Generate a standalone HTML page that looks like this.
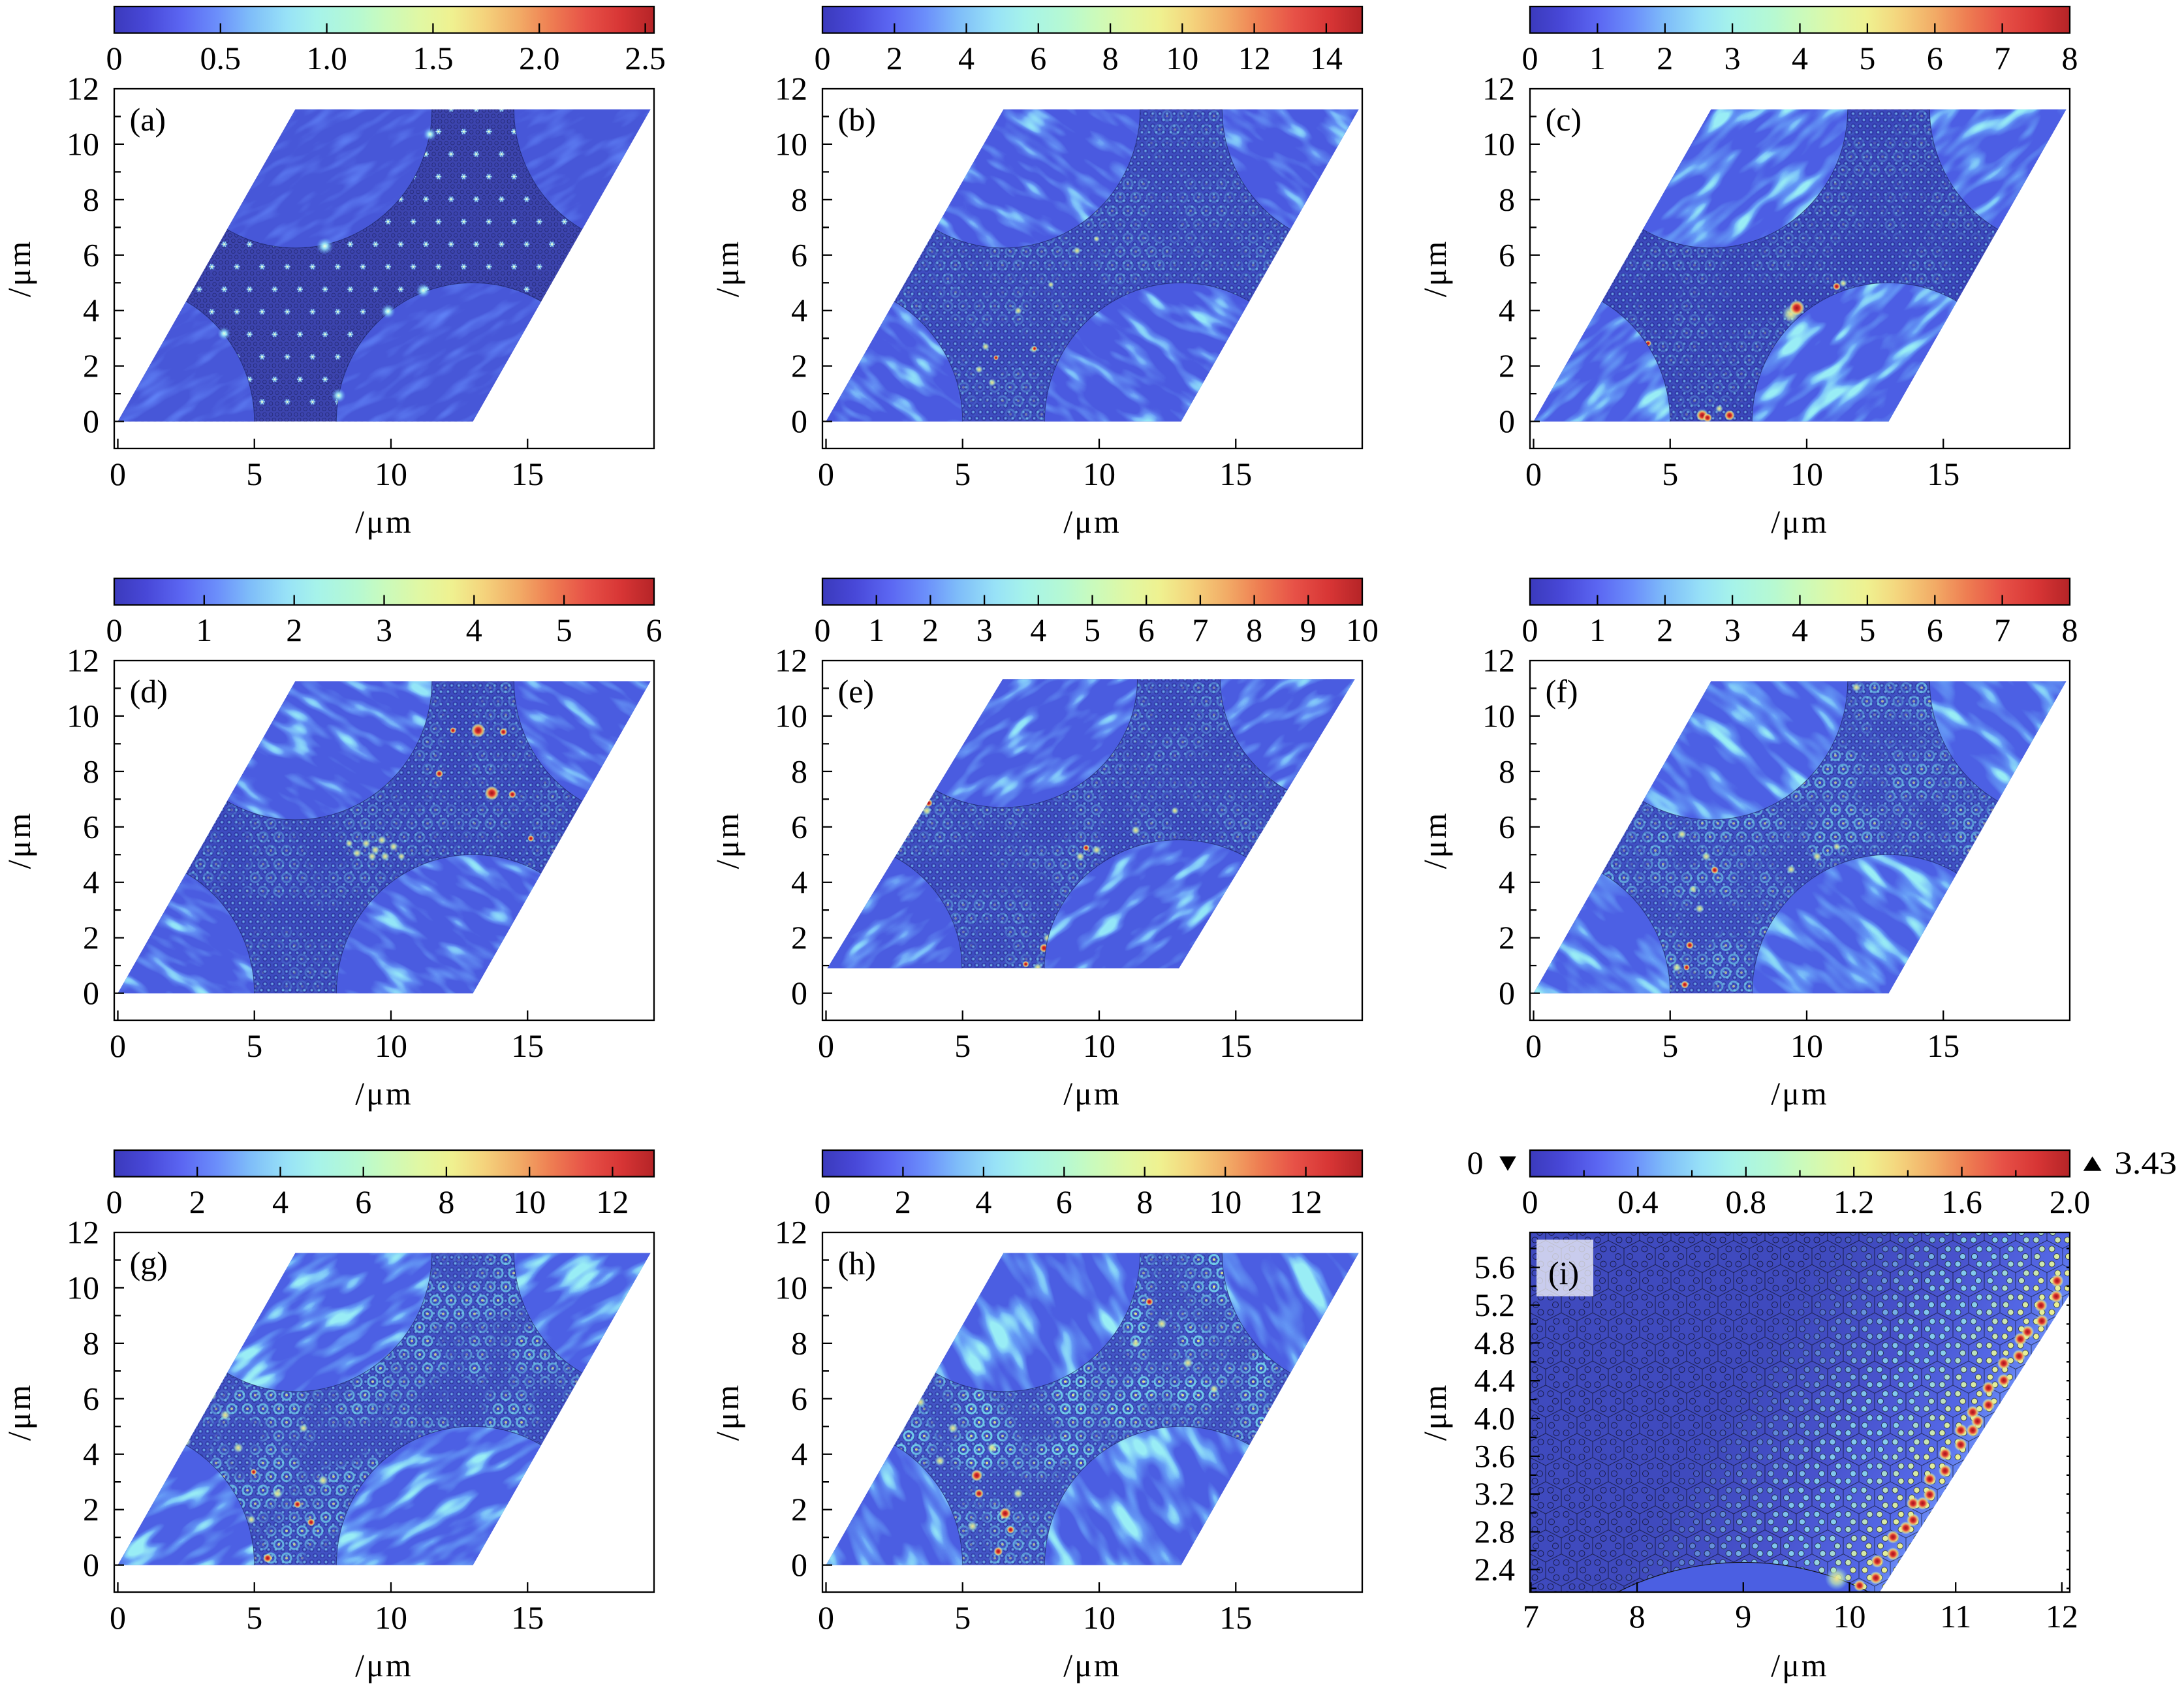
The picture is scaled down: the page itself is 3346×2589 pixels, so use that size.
<!DOCTYPE html>
<html><head><meta charset="utf-8">
<style>
html,body{margin:0;padding:0;background:#fff;width:3346px;height:2589px;overflow:hidden}
svg{display:block}
text{font-family:"Liberation Serif",serif;font-size:50px;fill:#000}
.lb{letter-spacing:3px}
</style></head><body>
<svg xmlns="http://www.w3.org/2000/svg" width="3346" height="2589" viewBox="0 0 3346 2589" overflow="hidden">
<defs>
<linearGradient id="cmap" x1="0" y1="0" x2="1" y2="0">
<stop offset="0" stop-color="#3b3abc"/><stop offset="0.06" stop-color="#4848d8"/><stop offset="0.125" stop-color="#5b66f2"/><stop offset="0.19" stop-color="#6b8efb"/><stop offset="0.25" stop-color="#7ebcf9"/><stop offset="0.32" stop-color="#98e2f7"/><stop offset="0.375" stop-color="#a6f3ea"/><stop offset="0.45" stop-color="#b6f9d2"/><stop offset="0.5" stop-color="#c9fabd"/><stop offset="0.565" stop-color="#e0f8a4"/><stop offset="0.625" stop-color="#eff190"/><stop offset="0.68" stop-color="#f4d67e"/><stop offset="0.75" stop-color="#f2ab66"/><stop offset="0.81" stop-color="#ee7d52"/><stop offset="0.875" stop-color="#e75147"/><stop offset="0.94" stop-color="#d73535"/><stop offset="1" stop-color="#b52427"/>
</linearGradient>
<radialGradient id="hot"><stop offset="0" stop-color="#a01418"/><stop offset="0.35" stop-color="#d83030"/><stop offset="0.6" stop-color="#f0a860"/><stop offset="0.8" stop-color="#e8f090" stop-opacity="0.6"/><stop offset="1" stop-color="#a0e8f0" stop-opacity="0"/></radialGradient>
<radialGradient id="warm"><stop offset="0" stop-color="#f4e48a"/><stop offset="0.5" stop-color="#c8f0b0" stop-opacity="0.7"/><stop offset="1" stop-color="#90e0f0" stop-opacity="0"/></radialGradient>
<radialGradient id="glow"><stop offset="0" stop-color="#f0ffe0"/><stop offset="0.3" stop-color="#a0f0f8" stop-opacity="0.9"/><stop offset="1" stop-color="#60a0f8" stop-opacity="0"/></radialGradient>

<clipPath id="rh"><polygon points="5.5,509.6 549.55,509.6 821.6,31.5 277.5,31.5"/></clipPath>
<clipPath id="ci"><ellipse cx="5.5" cy="509.6" rx="209.25" ry="212.35"/><ellipse cx="549.55" cy="509.6" rx="209.25" ry="212.35"/><ellipse cx="277.5" cy="31.5" rx="209.25" ry="212.35"/><ellipse cx="821.6" cy="31.5" rx="209.25" ry="212.35"/></clipPath>
<path id="arcS" d="M214.75 509.6A209.25 212.35 0 0 0 110.1 325.7M340.3 509.6A209.25 212.35 0 0 1 654.2 325.7M172.9 215.4A209.25 212.35 0 0 0 486.8 31.5M612.3 31.5A209.25 212.35 0 0 0 717 215.4" fill="none" stroke="#141a50" stroke-width="1" stroke-opacity="0.6"/>
<clipPath id="rhE"><polygon points="7.6,471.2 546.2,471.2 815.7,28.4 276.3,28.4"/></clipPath>
<clipPath id="ciE"><ellipse cx="7.6" cy="471.2" rx="206.3" ry="196.6"/><ellipse cx="546.2" cy="471.2" rx="206.3" ry="196.6"/><ellipse cx="276.3" cy="28.4" rx="206.3" ry="196.6"/><ellipse cx="815.7" cy="28.4" rx="206.3" ry="196.6"/></clipPath>
<path id="arcE" d="M213.9 471.2A206.3 196.6 0 0 0 110.9 301M339.9 471.2A206.3 196.6 0 0 1 649.7 301.1M173 198.6A206.3 196.6 0 0 0 482.6 28.4M609.4 28.4A206.3 196.6 0 0 0 712.2 198.5" fill="none" stroke="#141a50" stroke-width="1" stroke-opacity="0.6"/>
<clipPath id="clI"><polygon points="0,0 827,0 827,94.6 535.8,551 0,551"/></clipPath>

<pattern id="pA" patternUnits="userSpaceOnUse" width="9.6" height="16.63"><g fill="none" stroke="#0c1040" stroke-width="0.8" stroke-opacity="0.55"><circle cx="0" cy="0" r="2.8"/><circle cx="9.6" cy="0" r="2.8"/><circle cx="4.8" cy="8.315" r="2.8"/><circle cx="0" cy="16.63" r="2.8"/><circle cx="9.6" cy="16.63" r="2.8"/></g></pattern>
<g id="sp"><circle r="4" fill="#6fa8f4" opacity="0.55"/><path d="M-4.5 0H4.5M-2.2 -3.9L2.2 3.9M-2.2 3.9L2.2 -3.9" stroke="#9fe6f6" stroke-width="1.2"/><circle r="1.5" fill="#e8fbd0"/></g>
<pattern id="stA" patternUnits="userSpaceOnUse" x="33.6" y="65.6" width="38.6" height="69"><use href="#sp" x="0" y="0"/><use href="#sp" x="38.6" y="0"/><use href="#sp" x="19.3" y="34.5"/><use href="#sp" x="0" y="69"/><use href="#sp" x="38.6" y="69"/></pattern>
<pattern id="pD" patternUnits="userSpaceOnUse" width="11" height="19.05"><g fill="none" stroke="#141c66" stroke-width="0.8" stroke-opacity="0.55"><circle cx="0" cy="0" r="3.4"/><circle cx="11" cy="0" r="3.4"/><circle cx="5.5" cy="9.525" r="3.4"/><circle cx="0" cy="19.05" r="3.4"/><circle cx="11" cy="19.05" r="3.4"/></g><g fill="#86e2f2" fill-opacity="0.6"><circle cx="0" cy="0" r="1.6"/><circle cx="11" cy="0" r="1.6"/><circle cx="5.5" cy="9.525" r="1.6"/><circle cx="0" cy="19.05" r="1.6"/><circle cx="11" cy="19.05" r="1.6"/></g></pattern>
<pattern id="pR" patternUnits="userSpaceOnUse" width="24" height="41.57"><g fill="none" stroke="#72d0ea" stroke-width="3"><circle cx="0" cy="0" r="7"/><circle cx="24" cy="0" r="7"/><circle cx="12" cy="20.785" r="7"/><circle cx="0" cy="41.57" r="7"/><circle cx="24" cy="41.57" r="7"/></g><g fill="#e6ee8a"><circle cx="0" cy="0" r="2"/><circle cx="24" cy="0" r="2"/><circle cx="12" cy="20.785" r="2"/><circle cx="0" cy="41.57" r="2"/><circle cx="24" cy="41.57" r="2"/></g></pattern>

<g id="r6"><circle cx="15" cy="0" r="4.5"/><circle cx="-15" cy="0" r="4.5"/><circle cx="7.5" cy="11.55" r="4.5"/><circle cx="-7.5" cy="11.55" r="4.5"/><circle cx="7.5" cy="-11.55" r="4.5"/><circle cx="-7.5" cy="-11.55" r="4.5"/></g>
<g id="r6x"><use href="#r6" x="0" y="0"/><use href="#r6" x="48" y="0"/><use href="#r6" x="24" y="36.95"/><use href="#r6" x="0" y="73.9"/><use href="#r6" x="48" y="73.9"/></g>
<pattern id="hexL" patternUnits="userSpaceOnUse" width="48" height="73.9"><path d="M24 0V12.35L0 24.65V49.25L24 61.55V73.9M24 12.35L48 24.65V49.25L24 61.55" fill="none" stroke="#000" stroke-width="1" stroke-opacity="0.6"/><g fill="none" stroke="#000" stroke-width="0.9" stroke-opacity="0.65"><use href="#r6x"/></g></pattern>
<pattern id="hexC" patternUnits="userSpaceOnUse" width="48" height="73.9"><g fill="#8ad8f4"><use href="#r6x"/></g></pattern>
<pattern id="hexY" patternUnits="userSpaceOnUse" width="48" height="73.9"><g fill="#eef08e"><use href="#r6x"/></g></pattern>
<linearGradient id="gIbg" gradientUnits="userSpaceOnUse" x1="681.2" y1="323.1" x2="344" y2="108"><stop offset="0" stop-color="#6888f4"/><stop offset="0.12" stop-color="#5468e6"/><stop offset="0.45" stop-color="#4852cc"/><stop offset="0.8" stop-color="#3f4abe"/></linearGradient>
<linearGradient id="gIc" gradientUnits="userSpaceOnUse" x1="681.2" y1="323.1" x2="344" y2="108"><stop offset="0" stop-color="#fff"/><stop offset="0.45" stop-color="#fff" stop-opacity="0.85"/><stop offset="0.75" stop-color="#fff" stop-opacity="0.25"/><stop offset="0.9" stop-color="#fff" stop-opacity="0"/></linearGradient>
<linearGradient id="gIy" gradientUnits="userSpaceOnUse" x1="681.2" y1="323.1" x2="344" y2="108"><stop offset="0" stop-color="#fff"/><stop offset="0.12" stop-color="#fff" stop-opacity="0.8"/><stop offset="0.3" stop-color="#fff" stop-opacity="0"/></linearGradient>
<mask id="mIc" maskUnits="userSpaceOnUse" x="0" y="0" width="827" height="551"><rect width="827" height="551" fill="url(#gIc)"/></mask>
<mask id="mIy" maskUnits="userSpaceOnUse" x="0" y="0" width="827" height="551"><rect width="827" height="551" fill="url(#gIy)"/></mask>

<filter id="nz1" x="0" y="0" width="1" height="1" color-interpolation-filters="sRGB"><feTurbulence type="fractalNoise" baseFrequency="0.014" numOctaves="2" seed="3"/><feColorMatrix type="matrix" values="3.5 0 0 0 -1.2  3.5 0 0 0 -1.2  3.5 0 0 0 -1.2  0 0 0 0 1"/></filter>
<filter id="nz2" x="0" y="0" width="1" height="1" color-interpolation-filters="sRGB"><feTurbulence type="fractalNoise" baseFrequency="0.014" numOctaves="2" seed="9"/><feColorMatrix type="matrix" values="3.5 0 0 0 -1.2  3.5 0 0 0 -1.2  3.5 0 0 0 -1.2  0 0 0 0 1"/></filter>
<filter id="nz3" x="0" y="0" width="1" height="1" color-interpolation-filters="sRGB"><feTurbulence type="fractalNoise" baseFrequency="0.014" numOctaves="2" seed="17"/><feColorMatrix type="matrix" values="3.5 0 0 0 -1.2  3.5 0 0 0 -1.2  3.5 0 0 0 -1.2  0 0 0 0 1"/></filter>
<filter id="nz4" x="0" y="0" width="1" height="1" color-interpolation-filters="sRGB"><feTurbulence type="fractalNoise" baseFrequency="0.014" numOctaves="2" seed="23"/><feColorMatrix type="matrix" values="3.5 0 0 0 -1.2  3.5 0 0 0 -1.2  3.5 0 0 0 -1.2  0 0 0 0 1"/></filter>
<mask id="mk1" maskUnits="userSpaceOnUse" x="0" y="0" width="827" height="551"><rect width="827" height="551" fill="#fff" filter="url(#nz1)"/></mask>
<mask id="mk2" maskUnits="userSpaceOnUse" x="0" y="0" width="827" height="551"><rect width="827" height="551" fill="#fff" filter="url(#nz2)"/></mask>
<mask id="mk3" maskUnits="userSpaceOnUse" x="0" y="0" width="827" height="551"><rect width="827" height="551" fill="#fff" filter="url(#nz3)"/></mask>
<mask id="mk4" maskUnits="userSpaceOnUse" x="0" y="0" width="827" height="551"><rect width="827" height="551" fill="#fff" filter="url(#nz4)"/></mask>

<filter id="wA" x="0" y="0" width="1" height="1" color-interpolation-filters="sRGB"><feTurbulence type="fractalNoise" baseFrequency="0.016 0.055" numOctaves="2" seed="2" stitchTiles="stitch"/><feColorMatrix type="matrix" values="0 0 0 0 0.37  0 0 0 0 0.5  0 0 0 0 0.96  2.5 0 0 0 -1.2"/></filter>
<filter id="wB" x="0" y="0" width="1" height="1" color-interpolation-filters="sRGB"><feTurbulence type="fractalNoise" baseFrequency="0.015 0.045" numOctaves="2" seed="4" stitchTiles="stitch" result="n"/><feColorMatrix in="n" result="a" type="matrix" values="0 0 0 0 0.42  0 0 0 0 0.63  0 0 0 0 0.98  4 0 0 0 -1.9"/><feColorMatrix in="n" result="b" type="matrix" values="0 0 0 0 0.58  0 0 0 0 0.9  0 0 0 0 0.97  6 0 0 0 -3.9"/><feMerge><feMergeNode in="a"/><feMergeNode in="b"/></feMerge></filter>
<filter id="wC" x="0" y="0" width="1" height="1" color-interpolation-filters="sRGB"><feTurbulence type="fractalNoise" baseFrequency="0.014 0.042" numOctaves="2" seed="6" stitchTiles="stitch" result="n"/><feColorMatrix in="n" result="a" type="matrix" values="0 0 0 0 0.42  0 0 0 0 0.66  0 0 0 0 0.98  4.5 0 0 0 -2.0"/><feColorMatrix in="n" result="b" type="matrix" values="0 0 0 0 0.6  0 0 0 0 0.93  0 0 0 0 0.96  7 0 0 0 -4.3"/><feMerge><feMergeNode in="a"/><feMergeNode in="b"/></feMerge></filter>
<filter id="wD" x="0" y="0" width="1" height="1" color-interpolation-filters="sRGB"><feTurbulence type="fractalNoise" baseFrequency="0.015 0.045" numOctaves="2" seed="8" stitchTiles="stitch" result="n"/><feColorMatrix in="n" result="a" type="matrix" values="0 0 0 0 0.42  0 0 0 0 0.63  0 0 0 0 0.98  4 0 0 0 -1.9"/><feColorMatrix in="n" result="b" type="matrix" values="0 0 0 0 0.58  0 0 0 0 0.9  0 0 0 0 0.97  6 0 0 0 -3.9"/><feMerge><feMergeNode in="a"/><feMergeNode in="b"/></feMerge></filter>
<filter id="wE" x="0" y="0" width="1" height="1" color-interpolation-filters="sRGB"><feTurbulence type="fractalNoise" baseFrequency="0.015 0.045" numOctaves="2" seed="10" stitchTiles="stitch" result="n"/><feColorMatrix in="n" result="a" type="matrix" values="0 0 0 0 0.42  0 0 0 0 0.63  0 0 0 0 0.98  4 0 0 0 -1.9"/><feColorMatrix in="n" result="b" type="matrix" values="0 0 0 0 0.58  0 0 0 0 0.9  0 0 0 0 0.97  6 0 0 0 -3.9"/><feMerge><feMergeNode in="a"/><feMergeNode in="b"/></feMerge></filter>
<filter id="wF" x="0" y="0" width="1" height="1" color-interpolation-filters="sRGB"><feTurbulence type="fractalNoise" baseFrequency="0.013 0.038" numOctaves="2" seed="12" stitchTiles="stitch" result="n"/><feColorMatrix in="n" result="a" type="matrix" values="0 0 0 0 0.42  0 0 0 0 0.66  0 0 0 0 0.98  4.5 0 0 0 -2.0"/><feColorMatrix in="n" result="b" type="matrix" values="0 0 0 0 0.6  0 0 0 0 0.93  0 0 0 0 0.96  7 0 0 0 -4.3"/><feMerge><feMergeNode in="a"/><feMergeNode in="b"/></feMerge></filter>
<filter id="wG" x="0" y="0" width="1" height="1" color-interpolation-filters="sRGB"><feTurbulence type="fractalNoise" baseFrequency="0.014 0.042" numOctaves="2" seed="14" stitchTiles="stitch" result="n"/><feColorMatrix in="n" result="a" type="matrix" values="0 0 0 0 0.42  0 0 0 0 0.66  0 0 0 0 0.98  4.5 0 0 0 -2.0"/><feColorMatrix in="n" result="b" type="matrix" values="0 0 0 0 0.6  0 0 0 0 0.93  0 0 0 0 0.96  7 0 0 0 -4.3"/><feMerge><feMergeNode in="a"/><feMergeNode in="b"/></feMerge></filter>
<filter id="wH" x="0" y="0" width="1" height="1" color-interpolation-filters="sRGB"><feTurbulence type="fractalNoise" baseFrequency="0.012 0.034" numOctaves="2" seed="16" stitchTiles="stitch" result="n"/><feColorMatrix in="n" result="a" type="matrix" values="0 0 0 0 0.42  0 0 0 0 0.66  0 0 0 0 0.98  4.5 0 0 0 -2.0"/><feColorMatrix in="n" result="b" type="matrix" values="0 0 0 0 0.6  0 0 0 0 0.93  0 0 0 0 0.96  7 0 0 0 -4.3"/><feMerge><feMergeNode in="a"/><feMergeNode in="b"/></feMerge></filter>

<pattern id="qA" patternUnits="userSpaceOnUse" x="-137" y="-275" width="1100" height="1100" patternTransform="rotate(-30 413 275)"><rect width="1100" height="1100" filter="url(#wA)"/></pattern>
<pattern id="qB" patternUnits="userSpaceOnUse" x="-137" y="-275" width="1100" height="1100" patternTransform="rotate(35 413 275)"><rect width="1100" height="1100" filter="url(#wB)"/></pattern>
<pattern id="qC" patternUnits="userSpaceOnUse" x="-137" y="-275" width="1100" height="1100" patternTransform="rotate(-40 413 275)"><rect width="1100" height="1100" filter="url(#wC)"/></pattern>
<pattern id="qD" patternUnits="userSpaceOnUse" x="-137" y="-275" width="1100" height="1100" patternTransform="rotate(30 413 275)"><rect width="1100" height="1100" filter="url(#wD)"/></pattern>
<pattern id="qE" patternUnits="userSpaceOnUse" x="-137" y="-275" width="1100" height="1100" patternTransform="rotate(-35 413 275)"><rect width="1100" height="1100" filter="url(#wE)"/></pattern>
<pattern id="qF" patternUnits="userSpaceOnUse" x="-137" y="-275" width="1100" height="1100" patternTransform="rotate(40 413 275)"><rect width="1100" height="1100" filter="url(#wF)"/></pattern>
<pattern id="qG" patternUnits="userSpaceOnUse" x="-137" y="-275" width="1100" height="1100" patternTransform="rotate(-30 413 275)"><rect width="1100" height="1100" filter="url(#wG)"/></pattern>
<pattern id="qH" patternUnits="userSpaceOnUse" x="-137" y="-275" width="1100" height="1100" patternTransform="rotate(60 413 275)"><rect width="1100" height="1100" filter="url(#wH)"/></pattern>

<path id="tkS" d="M0 509.6h15M0 424.66h15M0 339.72h15M0 254.78h15M0 169.84h15M0 84.9h15M0 467.13h10M0 382.19h10M0 297.25h10M0 212.31h10M0 127.37h10M0 42.43h10M5.5 551v-15M214.75 551v-15M424 551v-15M633.25 551v-15" fill="none" stroke="#000" stroke-width="2.3"/>
</defs>

<!-- ================= (a) ================= -->
<g transform="translate(175,136)">
<rect x="0" y="-126" width="827" height="40.6" fill="url(#cmap)"/>
<path d="M162.8 -85.4v-15M325.6 -85.4v-15M488.4 -85.4v-15M651.2 -85.4v-15M813.6 -85.4v-15" stroke="#000" stroke-width="2.3"/>
<rect x="0" y="-126" width="827" height="40.6" fill="none" stroke="#000" stroke-width="2.3"/>
<g text-anchor="middle"><text x="0" y="-30">0</text><text x="162.8" y="-30">0.5</text><text x="325.6" y="-30">1.0</text><text x="488.4" y="-30">1.5</text><text x="651.2" y="-30">2.0</text><text x="813.6" y="-30">2.5</text></g>
<g clip-path="url(#rh)">
<rect width="827" height="551" fill="#3c44ae"/>
<rect width="827" height="551" fill="url(#pA)"/>
<rect width="827" height="551" fill="url(#stA)"/>
</g>
<g clip-path="url(#rh)"><g clip-path="url(#ci)">
<rect width="827" height="551" fill="#4757d8"/>
<rect width="827" height="551" fill="url(#qA)"/>
</g></g>
<use href="#arcS"/>
<g clip-path="url(#rh)">
<circle cx="322.6" cy="241" r="13" fill="url(#glow)"/><circle cx="419.5" cy="341" r="11" fill="url(#glow)"/><circle cx="473.5" cy="309" r="11" fill="url(#glow)"/><circle cx="343.7" cy="470" r="11" fill="url(#glow)"/><circle cx="168.3" cy="375" r="10" fill="url(#glow)"/><circle cx="483.8" cy="69.7" r="10" fill="url(#glow)"/>
</g>
<use href="#tkS"/>
<rect width="827" height="551" fill="none" stroke="#000" stroke-width="2.3"/>
<g text-anchor="end"><text x="-23" y="526.1">0</text><text x="-23" y="441.2">2</text><text x="-23" y="356.2">4</text><text x="-23" y="271.3">6</text><text x="-23" y="186.3">8</text><text x="-23" y="101.4">10</text><text x="-23" y="16.5">12</text></g>
<g text-anchor="middle"><text x="5.5" y="607">0</text><text x="214.75" y="607">5</text><text x="424" y="607">10</text><text x="633.25" y="607">15</text></g>
<text class="lb" x="413.5" y="680" text-anchor="middle">/μm</text>
<text class="lb" transform="translate(-129,275) rotate(-90)" text-anchor="middle">/μm</text>
<text x="23.6" y="64">(a)</text>
</g>

<!-- ================= (b) ================= -->
<g transform="translate(1260,136)">
<rect x="0" y="-126" width="827" height="40.6" fill="url(#cmap)"/>
<path d="M110.3 -85.4v-15M220.5 -85.4v-15M330.8 -85.4v-15M441.1 -85.4v-15M551.3 -85.4v-15M661.6 -85.4v-15M771.9 -85.4v-15" stroke="#000" stroke-width="2.3"/>
<rect x="0" y="-126" width="827" height="40.6" fill="none" stroke="#000" stroke-width="2.3"/>
<g text-anchor="middle"><text x="0" y="-30">0</text><text x="110.3" y="-30">2</text><text x="220.5" y="-30">4</text><text x="330.8" y="-30">6</text><text x="441.1" y="-30">8</text><text x="551.3" y="-30">10</text><text x="661.6" y="-30">12</text><text x="771.9" y="-30">14</text></g>
<g clip-path="url(#rh)">
<rect width="827" height="551" fill="#3e4cc0"/>
<rect width="827" height="551" fill="url(#pD)"/>
<rect width="827" height="551" fill="url(#pR)" mask="url(#mk1)" opacity="0.3"/>
<circle cx="323.6" cy="399" r="6" fill="url(#warm)"/><circle cx="250" cy="395" r="6" fill="url(#warm)"/><circle cx="300" cy="340" r="6" fill="url(#warm)"/><circle cx="390" cy="248" r="6" fill="url(#warm)"/><circle cx="260" cy="450" r="6" fill="url(#warm)"/><circle cx="240" cy="430" r="6" fill="url(#warm)"/><circle cx="325" cy="398" r="4" fill="url(#hot)"/><circle cx="266" cy="412" r="4" fill="url(#hot)"/><circle cx="350" cy="300" r="5" fill="url(#warm)"/><circle cx="420" cy="230" r="5" fill="url(#warm)"/>
</g>
<g clip-path="url(#rh)"><g clip-path="url(#ci)">
<rect width="827" height="551" fill="#4a5ae0"/>
<rect width="827" height="551" fill="url(#qB)"/>
</g></g>
<use href="#arcS"/>
<use href="#tkS"/>
<rect width="827" height="551" fill="none" stroke="#000" stroke-width="2.3"/>
<g text-anchor="end"><text x="-23" y="526.1">0</text><text x="-23" y="441.2">2</text><text x="-23" y="356.2">4</text><text x="-23" y="271.3">6</text><text x="-23" y="186.3">8</text><text x="-23" y="101.4">10</text><text x="-23" y="16.5">12</text></g>
<g text-anchor="middle"><text x="5.5" y="607">0</text><text x="214.75" y="607">5</text><text x="424" y="607">10</text><text x="633.25" y="607">15</text></g>
<text class="lb" x="413.5" y="680" text-anchor="middle">/μm</text>
<text class="lb" transform="translate(-129,275) rotate(-90)" text-anchor="middle">/μm</text>
<text x="23.6" y="64">(b)</text>
</g>

<!-- ================= (c) ================= -->
<g transform="translate(2344,136)">
<rect x="0" y="-126" width="827" height="40.6" fill="url(#cmap)"/>
<path d="M103.4 -85.4v-15M206.8 -85.4v-15M310.1 -85.4v-15M413.5 -85.4v-15M516.9 -85.4v-15M620.3 -85.4v-15M723.6 -85.4v-15" stroke="#000" stroke-width="2.3"/>
<rect x="0" y="-126" width="827" height="40.6" fill="none" stroke="#000" stroke-width="2.3"/>
<g text-anchor="middle"><text x="0" y="-30">0</text><text x="103.4" y="-30">1</text><text x="206.8" y="-30">2</text><text x="310.1" y="-30">3</text><text x="413.5" y="-30">4</text><text x="516.9" y="-30">5</text><text x="620.3" y="-30">6</text><text x="723.6" y="-30">7</text><text x="827" y="-30">8</text></g>
<g clip-path="url(#rh)">
<rect width="827" height="551" fill="#3b47bc"/>
<rect width="827" height="551" fill="url(#pD)"/>
<rect width="827" height="551" fill="url(#pR)" mask="url(#mk2)" opacity="0.25"/>
<circle cx="400" cy="345" r="14" fill="url(#warm)"/>
<circle cx="408.8" cy="335.7" r="12" fill="url(#hot)"/><circle cx="263.9" cy="500.3" r="9" fill="url(#hot)"/><circle cx="272" cy="504" r="7" fill="url(#hot)"/><circle cx="305.8" cy="500.3" r="8" fill="url(#hot)"/><circle cx="469.8" cy="302.8" r="6" fill="url(#hot)"/><circle cx="181" cy="390" r="5" fill="url(#hot)"/><circle cx="480" cy="298" r="6" fill="url(#warm)"/><circle cx="290" cy="490" r="6" fill="url(#warm)"/>
</g>
<g clip-path="url(#rh)"><g clip-path="url(#ci)">
<rect width="827" height="551" fill="#4c5ee4"/>
<rect width="827" height="551" fill="url(#qC)"/>
</g></g>
<use href="#arcS"/>
<use href="#tkS"/>
<rect width="827" height="551" fill="none" stroke="#000" stroke-width="2.3"/>
<g text-anchor="end"><text x="-23" y="526.1">0</text><text x="-23" y="441.2">2</text><text x="-23" y="356.2">4</text><text x="-23" y="271.3">6</text><text x="-23" y="186.3">8</text><text x="-23" y="101.4">10</text><text x="-23" y="16.5">12</text></g>
<g text-anchor="middle"><text x="5.5" y="607">0</text><text x="214.75" y="607">5</text><text x="424" y="607">10</text><text x="633.25" y="607">15</text></g>
<text class="lb" x="413.5" y="680" text-anchor="middle">/μm</text>
<text class="lb" transform="translate(-129,275) rotate(-90)" text-anchor="middle">/μm</text>
<text x="23.6" y="64">(c)</text>
</g>

<!-- ================= (d) ================= -->
<g transform="translate(175,1012)">
<rect x="0" y="-126" width="827" height="40.6" fill="url(#cmap)"/>
<path d="M137.8 -85.4v-15M275.7 -85.4v-15M413.5 -85.4v-15M551.3 -85.4v-15M689.2 -85.4v-15" stroke="#000" stroke-width="2.3"/>
<rect x="0" y="-126" width="827" height="40.6" fill="none" stroke="#000" stroke-width="2.3"/>
<g text-anchor="middle"><text x="0" y="-30">0</text><text x="137.8" y="-30">1</text><text x="275.7" y="-30">2</text><text x="413.5" y="-30">3</text><text x="551.3" y="-30">4</text><text x="689.2" y="-30">5</text><text x="827" y="-30">6</text></g>
<g clip-path="url(#rh)">
<rect width="827" height="551" fill="#3d4bc0"/>
<rect width="827" height="551" fill="url(#pD)"/>
<rect width="827" height="551" fill="url(#pR)" mask="url(#mk3)" opacity="0.35"/>
<circle cx="386" cy="280" r="7" fill="url(#warm)"/><circle cx="400" cy="290" r="7" fill="url(#warm)"/><circle cx="415" cy="300" r="7" fill="url(#warm)"/><circle cx="428" cy="285" r="7" fill="url(#warm)"/><circle cx="395" cy="300" r="7" fill="url(#warm)"/><circle cx="372" cy="295" r="7" fill="url(#warm)"/><circle cx="410" cy="275" r="7" fill="url(#warm)"/><circle cx="360" cy="280" r="6" fill="url(#warm)"/><circle cx="440" cy="300" r="6" fill="url(#warm)"/>
<circle cx="557.6" cy="107" r="11" fill="url(#hot)"/><circle cx="578.5" cy="203" r="11" fill="url(#hot)"/><circle cx="498" cy="173.3" r="6" fill="url(#hot)"/><circle cx="519" cy="107" r="5" fill="url(#hot)"/><circle cx="596.2" cy="109.3" r="6" fill="url(#hot)"/><circle cx="638.3" cy="272.5" r="5" fill="url(#hot)"/><circle cx="610" cy="205" r="6" fill="url(#hot)"/>
</g>
<g clip-path="url(#rh)"><g clip-path="url(#ci)">
<rect width="827" height="551" fill="#4a5ce0"/>
<rect width="827" height="551" fill="url(#qD)"/>
</g></g>
<use href="#arcS"/>
<use href="#tkS"/>
<rect width="827" height="551" fill="none" stroke="#000" stroke-width="2.3"/>
<g text-anchor="end"><text x="-23" y="526.1">0</text><text x="-23" y="441.2">2</text><text x="-23" y="356.2">4</text><text x="-23" y="271.3">6</text><text x="-23" y="186.3">8</text><text x="-23" y="101.4">10</text><text x="-23" y="16.5">12</text></g>
<g text-anchor="middle"><text x="5.5" y="607">0</text><text x="214.75" y="607">5</text><text x="424" y="607">10</text><text x="633.25" y="607">15</text></g>
<text class="lb" x="413.5" y="680" text-anchor="middle">/μm</text>
<text class="lb" transform="translate(-129,275) rotate(-90)" text-anchor="middle">/μm</text>
<text x="23.6" y="64">(d)</text>
</g>

<!-- ================= (e) ================= -->
<g transform="translate(1260,1012)">
<rect x="0" y="-126" width="827" height="40.6" fill="url(#cmap)"/>
<path d="M82.7 -85.4v-15M165.4 -85.4v-15M248.1 -85.4v-15M330.8 -85.4v-15M413.5 -85.4v-15M496.2 -85.4v-15M578.9 -85.4v-15M661.6 -85.4v-15M744.3 -85.4v-15" stroke="#000" stroke-width="2.3"/>
<rect x="0" y="-126" width="827" height="40.6" fill="none" stroke="#000" stroke-width="2.3"/>
<g text-anchor="middle"><text x="0" y="-30">0</text><text x="82.7" y="-30">1</text><text x="165.4" y="-30">2</text><text x="248.1" y="-30">3</text><text x="330.8" y="-30">4</text><text x="413.5" y="-30">5</text><text x="496.2" y="-30">6</text><text x="578.9" y="-30">7</text><text x="661.6" y="-30">8</text><text x="744.3" y="-30">9</text><text x="827" y="-30">10</text></g>
<g clip-path="url(#rhE)">
<rect width="827" height="551" fill="#3f4dc2"/>
<rect width="827" height="551" fill="url(#pD)"/>
<rect width="827" height="551" fill="url(#pR)" mask="url(#mk4)" opacity="0.35"/>
<circle cx="160" cy="230" r="7" fill="url(#warm)"/><circle cx="345" cy="425" r="7" fill="url(#warm)"/><circle cx="330" cy="470" r="7" fill="url(#warm)"/><circle cx="420" cy="290" r="7" fill="url(#warm)"/><circle cx="395" cy="300" r="7" fill="url(#warm)"/><circle cx="480" cy="260" r="7" fill="url(#warm)"/><circle cx="540" cy="230" r="6" fill="url(#warm)"/><circle cx="300" cy="200" r="6" fill="url(#warm)"/>
<circle cx="162.7" cy="218.2" r="6" fill="url(#hot)"/><circle cx="339.5" cy="440.4" r="7" fill="url(#hot)"/><circle cx="311.5" cy="465" r="5" fill="url(#hot)"/><circle cx="404" cy="286.8" r="5" fill="url(#hot)"/>
</g>
<g clip-path="url(#rhE)"><g clip-path="url(#ciE)">
<rect width="827" height="551" fill="#4a5ce0"/>
<rect width="827" height="551" fill="url(#qE)"/>
</g></g>
<use href="#arcE"/>
<use href="#tkS"/>
<rect width="827" height="551" fill="none" stroke="#000" stroke-width="2.3"/>
<g text-anchor="end"><text x="-23" y="526.1">0</text><text x="-23" y="441.2">2</text><text x="-23" y="356.2">4</text><text x="-23" y="271.3">6</text><text x="-23" y="186.3">8</text><text x="-23" y="101.4">10</text><text x="-23" y="16.5">12</text></g>
<g text-anchor="middle"><text x="5.5" y="607">0</text><text x="214.75" y="607">5</text><text x="424" y="607">10</text><text x="633.25" y="607">15</text></g>
<text class="lb" x="413.5" y="680" text-anchor="middle">/μm</text>
<text class="lb" transform="translate(-129,275) rotate(-90)" text-anchor="middle">/μm</text>
<text x="23.6" y="64">(e)</text>
</g>

<!-- ================= (f) ================= -->
<g transform="translate(2344,1012)">
<rect x="0" y="-126" width="827" height="40.6" fill="url(#cmap)"/>
<path d="M103.4 -85.4v-15M206.8 -85.4v-15M310.1 -85.4v-15M413.5 -85.4v-15M516.9 -85.4v-15M620.3 -85.4v-15M723.6 -85.4v-15" stroke="#000" stroke-width="2.3"/>
<rect x="0" y="-126" width="827" height="40.6" fill="none" stroke="#000" stroke-width="2.3"/>
<g text-anchor="middle"><text x="0" y="-30">0</text><text x="103.4" y="-30">1</text><text x="206.8" y="-30">2</text><text x="310.1" y="-30">3</text><text x="413.5" y="-30">4</text><text x="516.9" y="-30">5</text><text x="620.3" y="-30">6</text><text x="723.6" y="-30">7</text><text x="827" y="-30">8</text></g>
<g clip-path="url(#rh)">
<rect width="827" height="551" fill="#4050c4"/>
<rect width="827" height="551" fill="url(#pD)"/>
<rect width="827" height="551" fill="url(#pR)" mask="url(#mk1)" opacity="0.65"/>
<circle cx="500" cy="41" r="7" fill="url(#warm)"/><circle cx="233" cy="266" r="7" fill="url(#warm)"/><circle cx="260" cy="380" r="7" fill="url(#warm)"/><circle cx="225" cy="470" r="7" fill="url(#warm)"/><circle cx="270" cy="300" r="7" fill="url(#warm)"/><circle cx="400" cy="320" r="7" fill="url(#warm)"/><circle cx="440" cy="300" r="7" fill="url(#warm)"/><circle cx="470" cy="285" r="6" fill="url(#warm)"/><circle cx="250" cy="350" r="6" fill="url(#warm)"/>
<circle cx="237.2" cy="496.4" r="6" fill="url(#hot)"/><circle cx="244.8" cy="436" r="6" fill="url(#hot)"/><circle cx="283" cy="320.9" r="6" fill="url(#hot)"/><circle cx="240" cy="470" r="5" fill="url(#hot)"/>
</g>
<g clip-path="url(#rh)"><g clip-path="url(#ci)">
<rect width="827" height="551" fill="#4c60e4"/>
<rect width="827" height="551" fill="url(#qF)"/>
</g></g>
<use href="#arcS"/>
<use href="#tkS"/>
<rect width="827" height="551" fill="none" stroke="#000" stroke-width="2.3"/>
<g text-anchor="end"><text x="-23" y="526.1">0</text><text x="-23" y="441.2">2</text><text x="-23" y="356.2">4</text><text x="-23" y="271.3">6</text><text x="-23" y="186.3">8</text><text x="-23" y="101.4">10</text><text x="-23" y="16.5">12</text></g>
<g text-anchor="middle"><text x="5.5" y="607">0</text><text x="214.75" y="607">5</text><text x="424" y="607">10</text><text x="633.25" y="607">15</text></g>
<text class="lb" x="413.5" y="680" text-anchor="middle">/μm</text>
<text class="lb" transform="translate(-129,275) rotate(-90)" text-anchor="middle">/μm</text>
<text x="23.6" y="64">(f)</text>
</g>

<!-- ================= (g) ================= -->
<g transform="translate(175,1888)">
<rect x="0" y="-126" width="827" height="40.6" fill="url(#cmap)"/>
<path d="M127.2 -85.4v-15M254.5 -85.4v-15M381.7 -85.4v-15M508.9 -85.4v-15M636.2 -85.4v-15M763.4 -85.4v-15" stroke="#000" stroke-width="2.3"/>
<rect x="0" y="-126" width="827" height="40.6" fill="none" stroke="#000" stroke-width="2.3"/>
<g text-anchor="middle"><text x="0" y="-30">0</text><text x="127.2" y="-30">2</text><text x="254.5" y="-30">4</text><text x="381.7" y="-30">6</text><text x="508.9" y="-30">8</text><text x="636.2" y="-30">10</text><text x="763.4" y="-30">12</text></g>
<g clip-path="url(#rh)">
<rect width="827" height="551" fill="#4151c4"/>
<rect width="827" height="551" fill="url(#pD)"/>
<rect width="827" height="551" fill="url(#pR)" mask="url(#mk2)" opacity="0.75"/>
<circle cx="170" cy="280" r="8" fill="url(#warm)"/><circle cx="190" cy="330" r="8" fill="url(#warm)"/><circle cx="250" cy="400" r="8" fill="url(#warm)"/><circle cx="320" cy="380" r="8" fill="url(#warm)"/><circle cx="110" cy="320" r="8" fill="url(#warm)"/><circle cx="150" cy="250" r="7" fill="url(#warm)"/><circle cx="210" cy="440" r="7" fill="url(#warm)"/><circle cx="290" cy="300" r="7" fill="url(#warm)"/>
<circle cx="235" cy="499" r="7" fill="url(#hot)"/><circle cx="280.6" cy="416.5" r="6" fill="url(#hot)"/><circle cx="213.6" cy="367" r="5" fill="url(#hot)"/><circle cx="301.6" cy="444" r="6" fill="url(#hot)"/>
</g>
<g clip-path="url(#rh)"><g clip-path="url(#ci)">
<rect width="827" height="551" fill="#4c60e4"/>
<rect width="827" height="551" fill="url(#qG)"/>
</g></g>
<use href="#arcS"/>
<use href="#tkS"/>
<rect width="827" height="551" fill="none" stroke="#000" stroke-width="2.3"/>
<g text-anchor="end"><text x="-23" y="526.1">0</text><text x="-23" y="441.2">2</text><text x="-23" y="356.2">4</text><text x="-23" y="271.3">6</text><text x="-23" y="186.3">8</text><text x="-23" y="101.4">10</text><text x="-23" y="16.5">12</text></g>
<g text-anchor="middle"><text x="5.5" y="607">0</text><text x="214.75" y="607">5</text><text x="424" y="607">10</text><text x="633.25" y="607">15</text></g>
<text class="lb" x="413.5" y="680" text-anchor="middle">/μm</text>
<text class="lb" transform="translate(-129,275) rotate(-90)" text-anchor="middle">/μm</text>
<text x="23.6" y="64">(g)</text>
</g>

<!-- ================= (h) ================= -->
<g transform="translate(1260,1888)">
<rect x="0" y="-126" width="827" height="40.6" fill="url(#cmap)"/>
<path d="M123.4 -85.4v-15M246.9 -85.4v-15M370.3 -85.4v-15M493.7 -85.4v-15M617.2 -85.4v-15M740.6 -85.4v-15" stroke="#000" stroke-width="2.3"/>
<rect x="0" y="-126" width="827" height="40.6" fill="none" stroke="#000" stroke-width="2.3"/>
<g text-anchor="middle"><text x="0" y="-30">0</text><text x="123.4" y="-30">2</text><text x="246.9" y="-30">4</text><text x="370.3" y="-30">6</text><text x="493.7" y="-30">8</text><text x="617.2" y="-30">10</text><text x="740.6" y="-30">12</text></g>
<g clip-path="url(#rh)">
<rect width="827" height="551" fill="#4354c6"/>
<rect width="827" height="551" fill="url(#pD)"/>
<rect width="827" height="551" fill="url(#pR)" mask="url(#mk3)" opacity="0.95"/>
<circle cx="150" cy="260" r="8" fill="url(#warm)"/><circle cx="200" cy="300" r="8" fill="url(#warm)"/><circle cx="180" cy="350" r="8" fill="url(#warm)"/><circle cx="260" cy="330" r="8" fill="url(#warm)"/><circle cx="300" cy="400" r="8" fill="url(#warm)"/><circle cx="230" cy="450" r="8" fill="url(#warm)"/><circle cx="520" cy="140" r="8" fill="url(#warm)"/><circle cx="560" cy="200" r="8" fill="url(#warm)"/><circle cx="480" cy="170" r="7" fill="url(#warm)"/><circle cx="600" cy="240" r="7" fill="url(#warm)"/><circle cx="120" cy="300" r="7" fill="url(#warm)"/>
<circle cx="236.4" cy="372.3" r="9" fill="url(#hot)"/><circle cx="279.9" cy="430.5" r="9" fill="url(#hot)"/><circle cx="269.4" cy="488.7" r="7" fill="url(#hot)"/><circle cx="288.3" cy="455.5" r="6" fill="url(#hot)"/><circle cx="239.9" cy="400" r="7" fill="url(#hot)"/><circle cx="500.9" cy="106.3" r="6" fill="url(#hot)"/>
</g>
<g clip-path="url(#rh)"><g clip-path="url(#ci)">
<rect width="827" height="551" fill="#4b5ee2"/>
<rect width="827" height="551" fill="url(#qH)"/>
</g></g>
<use href="#arcS"/>
<use href="#tkS"/>
<rect width="827" height="551" fill="none" stroke="#000" stroke-width="2.3"/>
<g text-anchor="end"><text x="-23" y="526.1">0</text><text x="-23" y="441.2">2</text><text x="-23" y="356.2">4</text><text x="-23" y="271.3">6</text><text x="-23" y="186.3">8</text><text x="-23" y="101.4">10</text><text x="-23" y="16.5">12</text></g>
<g text-anchor="middle"><text x="5.5" y="607">0</text><text x="214.75" y="607">5</text><text x="424" y="607">10</text><text x="633.25" y="607">15</text></g>
<text class="lb" x="413.5" y="680" text-anchor="middle">/μm</text>
<text class="lb" transform="translate(-129,275) rotate(-90)" text-anchor="middle">/μm</text>
<text x="23.6" y="64">(h)</text>
</g>

<!-- ================= (i) ================= -->
<g transform="translate(2344,1888)">
<rect x="0" y="-126" width="827" height="40.6" fill="url(#cmap)"/>
<path d="M165.4 -85.4v-15M330.8 -85.4v-15M496.2 -85.4v-15M661.6 -85.4v-15M82.7 -85.4v-10M248.1 -85.4v-10M413.5 -85.4v-10M578.9 -85.4v-10M744.3 -85.4v-10" stroke="#000" stroke-width="2.3"/>
<rect x="0" y="-126" width="827" height="40.6" fill="none" stroke="#000" stroke-width="2.3"/>
<g text-anchor="middle"><text x="0" y="-30">0</text><text x="165.4" y="-30">0.4</text><text x="330.8" y="-30">0.8</text><text x="496.2" y="-30">1.2</text><text x="661.6" y="-30">1.6</text><text x="827" y="-30">2.0</text></g>
<text x="-84" y="-90" text-anchor="middle">0</text>
<polygon points="-46.8,-116.5 -21.2,-116.5 -34,-94.3" fill="#000"/>
<polygon points="847.8,-94.3 875.6,-94.3 861.7,-116.5" fill="#000"/>
<text x="895.4" y="-90" textLength="95.7" lengthAdjust="spacingAndGlyphs">3.43</text>
<g clip-path="url(#clI)">
<rect width="827" height="551" fill="url(#gIbg)"/>
<rect width="827" height="551" fill="url(#hexC)" mask="url(#mIc)"/>
<rect width="827" height="551" fill="url(#hexY)" mask="url(#mIy)"/>
<rect width="827" height="551" fill="url(#hexL)"/>
<path d="M134.3 551A387 344 0 0 1 519.3 551Z" fill="#4b5fe2" stroke="#111" stroke-width="1.2"/>
<circle cx="470" cy="530" r="18" fill="url(#warm)"/>
<g>
<circle cx="807.6" cy="74.2" r="10" fill="url(#hot)"/><circle cx="806.2" cy="98" r="10" fill="url(#hot)"/><circle cx="782.8" cy="111.9" r="10" fill="url(#hot)"/><circle cx="784.2" cy="135.7" r="10" fill="url(#hot)"/><circle cx="762.3" cy="152.3" r="10" fill="url(#hot)"/><circle cx="751.4" cy="163.4" r="10" fill="url(#hot)"/><circle cx="749.2" cy="189.5" r="10" fill="url(#hot)"/><circle cx="725.8" cy="200.5" r="10" fill="url(#hot)"/><circle cx="725.8" cy="226.6" r="10" fill="url(#hot)"/><circle cx="702.4" cy="238.2" r="10" fill="url(#hot)"/><circle cx="702.4" cy="264.3" r="10" fill="url(#hot)"/><circle cx="678.3" cy="275.4" r="10" fill="url(#hot)"/><circle cx="685.6" cy="289.2" r="10" fill="url(#hot)"/><circle cx="660" cy="303.1" r="10" fill="url(#hot)"/><circle cx="678.3" cy="303.1" r="10" fill="url(#hot)"/><circle cx="660" cy="325.2" r="10" fill="url(#hot)"/><circle cx="635.9" cy="339.1" r="10" fill="url(#hot)"/><circle cx="635.9" cy="365.1" r="10" fill="url(#hot)"/><circle cx="612.5" cy="377.9" r="10" fill="url(#hot)"/><circle cx="612.5" cy="401.7" r="10" fill="url(#hot)"/><circle cx="586.9" cy="415" r="10" fill="url(#hot)"/><circle cx="601.5" cy="415" r="10" fill="url(#hot)"/><circle cx="586.9" cy="440.5" r="10" fill="url(#hot)"/><circle cx="575.9" cy="452.7" r="10" fill="url(#hot)"/><circle cx="556.2" cy="466.6" r="10" fill="url(#hot)"/><circle cx="556.2" cy="492.6" r="10" fill="url(#hot)"/><circle cx="532.1" cy="503.7" r="10" fill="url(#hot)"/><circle cx="529.9" cy="529.2" r="10" fill="url(#hot)"/><circle cx="505" cy="541" r="9" fill="url(#hot)"/>
</g>
</g>
<rect x="10" y="11" width="87" height="87" fill="#fff" fill-opacity="0.72"/>
<text x="28" y="79">(i)</text>
<path d="M0 516.4h15M0 458.6h15M0 400.7h15M0 342.9h15M0 285h15M0 227.2h15M0 169.4h15M0 111.5h15M0 53.7h15M0 545.3h10M0 487.5h10M0 429.6h10M0 371.8h10M0 313.9h10M0 256.1h10M0 198.3h10M0 140.4h10M0 82.6h10M0 24.7h10M827 516.4h-5M827 458.6h-5M827 400.7h-5M827 342.9h-5M827 285h-5M827 227.2h-5M827 169.4h-5M827 111.5h-5M827 53.7h-5M827 545.3h-5M827 487.5h-5M827 429.6h-5M827 371.8h-5M827 313.9h-5M827 256.1h-5M827 198.3h-5M827 140.4h-5M827 82.6h-5M827 24.7h-5M1.4 551v-15M164.1 551v-15M326.8 551v-15M489.5 551v-15M652.2 551v-15M814.9 551v-15" fill="none" stroke="#000" stroke-width="2.3"/>
<rect width="827" height="551" fill="none" stroke="#000" stroke-width="2.3"/>
<g text-anchor="end"><text x="-23" y="532.9">2.4</text><text x="-23" y="475.1">2.8</text><text x="-23" y="417.2">3.2</text><text x="-23" y="359.4">3.6</text><text x="-23" y="301.5">4.0</text><text x="-23" y="243.7">4.4</text><text x="-23" y="185.9">4.8</text><text x="-23" y="128">5.2</text><text x="-23" y="70.2">5.6</text></g>
<g text-anchor="middle"><text x="1.4" y="605">7</text><text x="164.1" y="605">8</text><text x="326.8" y="605">9</text><text x="489.5" y="605">10</text><text x="652.2" y="605">11</text><text x="814.9" y="605">12</text></g>
<text class="lb" x="413.5" y="680" text-anchor="middle">/μm</text>
<text class="lb" transform="translate(-129,275) rotate(-90)" text-anchor="middle">/μm</text>
</g>
</svg>
</body></html>
